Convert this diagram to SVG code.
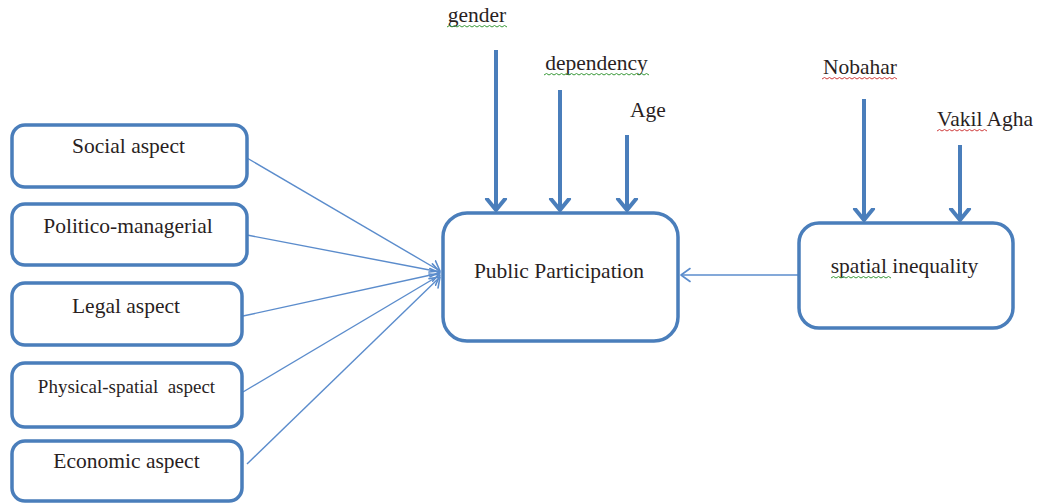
<svg xmlns="http://www.w3.org/2000/svg" width="1038" height="503" viewBox="0 0 1038 503">
<style>
.box{fill:#ffffff;stroke:#4a7ebb;stroke-width:3.5}
.t{font-family:"Liberation Serif","Times New Roman",serif;font-size:21.5px;fill:#2a1f1f;text-anchor:middle}
.thick{stroke:#4a7ebb;stroke-width:4;fill:none}
.thin{stroke:#5b8ccc;stroke-width:1.4;fill:none}
.wg{stroke:#3a9a3a;stroke-width:1;fill:none}
.wr{stroke:#d04040;stroke-width:1;fill:none}
</style>
<defs>
<marker id="hk" markerUnits="userSpaceOnUse" markerWidth="24" markerHeight="24" viewBox="-12 -12 24 24" refX="0" refY="0" orient="auto">
<path d="M-11,-9 L0,0 L-11,9" fill="none" stroke="#4a7ebb" stroke-width="4" stroke-linecap="round" stroke-linejoin="round"/>
</marker>
<marker id="hn" markerUnits="userSpaceOnUse" markerWidth="20" markerHeight="20" viewBox="-10 -10 20 20" refX="0" refY="0" orient="auto">
<path d="M-9,-6.5 L0,0 L-9,6.5" fill="none" stroke="#5b8ccc" stroke-width="1.6" stroke-linecap="round" stroke-linejoin="round"/>
</marker>
</defs>
<rect width="1038" height="503" fill="#ffffff"/>
<g id="connectors">
<line class="thin" x1="247" y1="158" x2="440" y2="271" marker-end="url(#hn)"/>
<line class="thin" x1="247" y1="235" x2="440" y2="272" marker-end="url(#hn)"/>
<line class="thin" x1="243" y1="316" x2="440" y2="273" marker-end="url(#hn)"/>
<line class="thin" x1="243" y1="392" x2="440" y2="275" marker-end="url(#hn)"/>
<line class="thin" x1="247" y1="464" x2="440" y2="277" marker-end="url(#hn)"/>
<line class="thin" x1="798" y1="275" x2="681" y2="275" marker-end="url(#hn)"/>
<line class="thick" x1="496" y1="50" x2="496" y2="210" marker-end="url(#hk)"/>
<line class="thick" x1="560" y1="90" x2="560" y2="210" marker-end="url(#hk)"/>
<line class="thick" x1="627" y1="135" x2="627" y2="210" marker-end="url(#hk)"/>
<line class="thick" x1="864" y1="99" x2="864" y2="220" marker-end="url(#hk)"/>
<line class="thick" x1="960" y1="145" x2="960" y2="220" marker-end="url(#hk)"/>
</g>
<g id="social">
<rect class="box" x="12" y="125" width="235" height="62" rx="13"/>
<text class="t" x="128.5" y="153">Social aspect</text>
</g>
<g id="politico">
<rect class="box" x="12" y="204" width="235" height="61" rx="13"/>
<text class="t" x="128" y="233">Politico-managerial</text>
</g>
<g id="legal">
<rect class="box" x="12" y="283" width="230" height="62" rx="13"/>
<text class="t" x="126" y="313">Legal aspect</text>
</g>
<g id="physical">
<rect class="box" x="12" y="363" width="230" height="64" rx="13"/>
<text class="t" x="126.5" y="393" style="font-size:19px" xml:space="preserve">Physical-spatial  aspect</text>
</g>
<g id="economic">
<rect class="box" x="12" y="441" width="230" height="60" rx="13"/>
<text class="t" x="126.5" y="468">Economic aspect</text>
</g>
<g id="public">
<rect class="box" x="443" y="213" width="235" height="128" rx="24"/>
<text class="t" x="559" y="278">Public Participation</text>
</g>
<g id="spatial">
<rect class="box" x="799" y="223" width="214" height="105" rx="20"/>
<text class="t" x="904.5" y="273">spatial inequality</text>
<path class="wg" d="M831,278 l2.5,-1.5 l2.5,1.5 l2.5,-1.5 l2.5,1.5 l2.5,-1.5 l2.5,1.5 l2.5,-1.5 l2.5,1.5 l2.5,-1.5 l2.5,1.5 l2.5,-1.5 l2.5,1.5 l2.5,-1.5 l2.5,1.5 l2.5,-1.5 l2.5,1.5 l2.5,-1.5 l2.5,1.5 l2.5,-1.5 l2.5,1.5 l2.5,-1.5 l2.5,1.5 l2.5,-1.5 l2.5,1.5"/>
</g>
<g id="gender">
<text class="t" x="477" y="22">gender</text>
<path class="wg" d="M447,27 l2.5,-1.5 l2.5,1.5 l2.5,-1.5 l2.5,1.5 l2.5,-1.5 l2.5,1.5 l2.5,-1.5 l2.5,1.5 l2.5,-1.5 l2.5,1.5 l2.5,-1.5 l2.5,1.5 l2.5,-1.5 l2.5,1.5 l2.5,-1.5 l2.5,1.5 l2.5,-1.5 l2.5,1.5 l2.5,-1.5 l2.5,1.5 l2.5,-1.5 l2.5,1.5 l2.5,-1.5 l2.5,1.5"/>
</g>
<g id="dependency">
<text class="t" x="596.5" y="70">dependency</text>
<path class="wg" d="M544,75 l2.5,-1.5 l2.5,1.5 l2.5,-1.5 l2.5,1.5 l2.5,-1.5 l2.5,1.5 l2.5,-1.5 l2.5,1.5 l2.5,-1.5 l2.5,1.5 l2.5,-1.5 l2.5,1.5 l2.5,-1.5 l2.5,1.5 l2.5,-1.5 l2.5,1.5 l2.5,-1.5 l2.5,1.5 l2.5,-1.5 l2.5,1.5 l2.5,-1.5 l2.5,1.5 l2.5,-1.5 l2.5,1.5 l2.5,-1.5 l2.5,1.5 l2.5,-1.5 l2.5,1.5 l2.5,-1.5 l2.5,1.5 l2.5,-1.5 l2.5,1.5 l2.5,-1.5 l2.5,1.5 l2.5,-1.5 l2.5,1.5 l2.5,-1.5 l2.5,1.5 l2.5,-1.5 l2.5,1.5 l2.5,-1.5 l2.5,1.5"/>
</g>
<g id="age">
<text class="t" x="648" y="117">Age</text>
</g>
<g id="nobahar">
<text class="t" x="860" y="74">Nobahar</text>
<path class="wr" d="M822,79 l2.5,-1.5 l2.5,1.5 l2.5,-1.5 l2.5,1.5 l2.5,-1.5 l2.5,1.5 l2.5,-1.5 l2.5,1.5 l2.5,-1.5 l2.5,1.5 l2.5,-1.5 l2.5,1.5 l2.5,-1.5 l2.5,1.5 l2.5,-1.5 l2.5,1.5 l2.5,-1.5 l2.5,1.5 l2.5,-1.5 l2.5,1.5 l2.5,-1.5 l2.5,1.5 l2.5,-1.5 l2.5,1.5 l2.5,-1.5 l2.5,1.5 l2.5,-1.5 l2.5,1.5 l2.5,-1.5 l2.5,1.5"/>
</g>
<g id="vakil">
<text class="t" x="937" y="126" style="text-anchor:start">Vakil Agha</text>
<path class="wr" d="M937,131 l2.5,-1.5 l2.5,1.5 l2.5,-1.5 l2.5,1.5 l2.5,-1.5 l2.5,1.5 l2.5,-1.5 l2.5,1.5 l2.5,-1.5 l2.5,1.5 l2.5,-1.5 l2.5,1.5 l2.5,-1.5 l2.5,1.5 l2.5,-1.5 l2.5,1.5 l2.5,-1.5 l2.5,1.5 l2.5,-1.5 l2.5,1.5"/>
</g>
</svg>
